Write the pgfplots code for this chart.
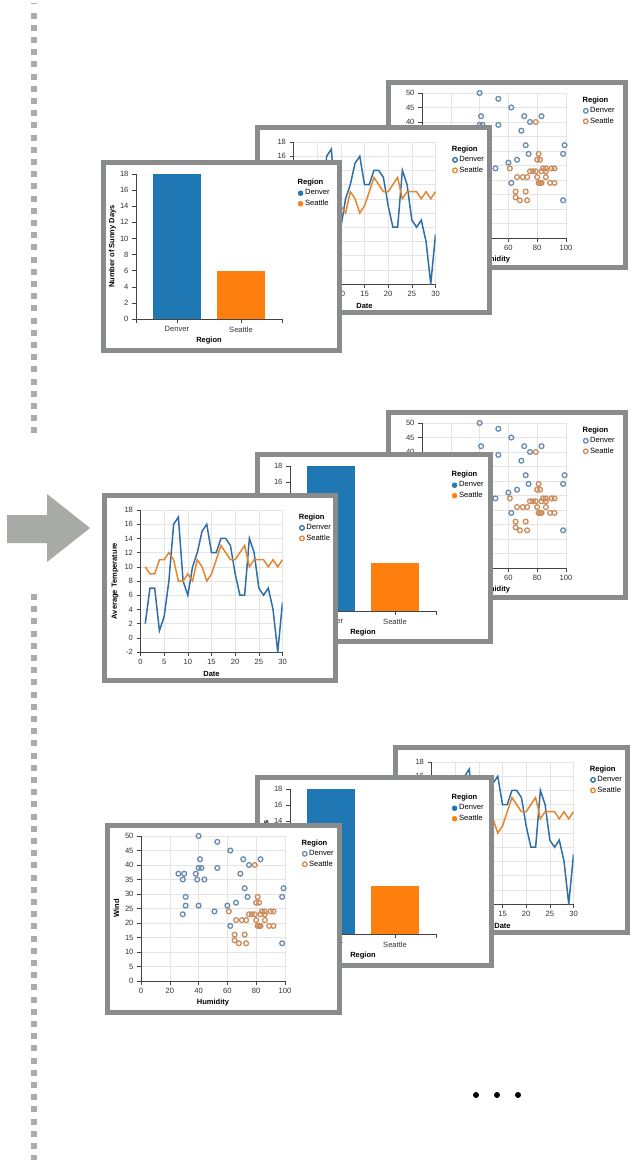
\documentclass[border=0pt]{standalone}
\usepackage{pgfplots}
\pgfplotsset{compat=1.18}
\usepackage{pgfplotstable}
\usepackage{fontspec}
\setmainfont{Liberation Sans}

\definecolor{framegray}{HTML}{898B8D}
\definecolor{dashgray}{HTML}{ABABAB}
\definecolor{arrowgray}{HTML}{A8AAA8}
\definecolor{barblue}{HTML}{1F77B4}
\definecolor{barorange}{HTML}{FF7F0E}
\definecolor{lineblue}{HTML}{2E6FA7}
\definecolor{lineorange}{HTML}{E4862F}
\definecolor{dotblue}{HTML}{6A8CB0}
\definecolor{dotorange}{HTML}{CC8C5C}
\definecolor{gridgray}{HTML}{E4E4E4}
\definecolor{axisgray}{HTML}{444444}

% daily average temperature
\pgfplotstableread{
day denver seattle
1   2  10
2   7  9
3   7  9
4   1  11
5   3  11
6   8  12
7   16 11
8   17 8
9   8  8
10  6  9
11  10 8
12  12 11
13  15 10
14  16 8
15  12 9
16  12 11
17  14 13
18  14 12
19  13 11
20  9  11
21  6  12
22  6  13
23  14 10
24  12 11
25  7  11
26  6  11
27  7  10
28  4  11
29  -2 10
30  5  11
}\temps

\pgfplotstableread{
hum wind
40 50
53 48
62 45
41 42
71 42
83 42
75 40
40 39
42 39
53 39
26 37
30 37
38 37
69 37
29 35
39 35
44 35
72 32
99 32
31 29
74 29
98 29
31 26
40 26
60 26
66 27
51 24
29 23
62 19
98 13
}\denverwind

\pgfplotstableread{
hum wind
79 40
81 29
80 27
82 27
61 24
75 23
77 23
79 23
84 24
86 24
90 24
92 24
83 23
86 23
66 21
70 21
73 21
80 21
86 21
81 19
82 19
83 19
89 19
92 19
65 16
72 16
65 14
68 13
73 13
}\seattlewind

\pgfplotsset{
  legend image code/.code={\draw[#1] plot coordinates {(2.5pt,0pt)};},
  ylab/.style={every axis y label/.style={at={(axis description cs:0,0.5)},anchor=center,
    font=\bfseries\fontsize{7.5}{8}\selectfont,xshift=#1,rotate=90}},
  vbase/.style={
    scale only axis, anchor=north west,
    axis lines*=left, xtick pos=bottom, ytick pos=left,
    tick align=outside, major tick length=4pt,
    tick style={axisgray, line width=0.5pt},
    axis line style={axisgray, line width=0.6pt},
    tick label style={font=\fontsize{7.6}{8}\selectfont, text=black!80},
    /pgf/number format/assume math mode=true,
    every axis x label/.style={at={(axis description cs:0.5,0)}, anchor=center, yshift=-22pt,
      font=\bfseries\fontsize{7.5}{8}\selectfont},
    major grid style={gridgray, line width=0.5pt},
    legend style={draw=none, fill=none, anchor=north west, inner sep=0pt, outer sep=0pt,
      font=\fontsize{7.6}{8}\selectfont, row sep=0pt,
      nodes={inner ysep=1pt, text height=6pt, text depth=2.5pt}},
    legend cell align=left,
  },
}

\newcommand{\cardframe}[4]{%
  \fill[white] (#1pt,-#2pt) rectangle ++(#3pt,-#4pt);
  \draw[framegray, line width=5pt] (#1pt+2.5pt,-#2pt-2.5pt) rectangle ++(#3pt-5pt,-#4pt+5pt);
}

\newcommand{\barchart}[4]{%
  \cardframe{#1}{#2}{#3}{#4}
  \begin{axis}[vbase, ylab=-23.5pt, at={(#1pt+35pt,-#2pt-14pt)}, width=146pt, height=145pt,
    xmin=-0.64, xmax=1.64, ymin=0, ymax=18,
    xtick={0,1}, xticklabels={Denver,Seattle},
    extra x ticks={-0.64,1.64}, extra x tick labels={},
    ytick={0,2,...,18},
    xlabel={Region}, ylabel={Number of Sunny Days},
    legend style={at={(axis description cs:1.11,0.976)}}]
  \addplot[ybar, bar width=0.75, bar shift=0pt, fill=barblue, draw=none, forget plot] coordinates {(0,18)};
  \addplot[ybar, bar width=0.75, bar shift=0pt, fill=barorange, draw=none, forget plot] coordinates {(1,6)};
  \addlegendimage{empty legend}\addlegendentry{\hspace*{-7.5pt}\textbf{Region}}
  \addlegendimage{only marks, mark=*, mark size=2.5pt, barblue}\addlegendentry{Denver}
  \addlegendimage{only marks, mark=*, mark size=2.5pt, barorange}\addlegendentry{Seattle}
  \end{axis}
}

\newcommand{\linechart}[4]{%
  \cardframe{#1}{#2}{#3}{#4}
  \begin{axis}[vbase, ylab=-25.5pt, at={(#1pt+38.5pt,-#2pt-17pt)}, width=142pt, height=142pt,
    xmin=0, xmax=30, ymin=-2, ymax=18,
    xtick={0,5,...,30}, ytick={-2,0,...,18}, grid=major,
    xlabel={Date}, ylabel={Average Temperature},
    legend style={at={(axis description cs:1.12,0.985)}}]
  \addplot[lineblue, line width=1.5pt, forget plot] table[x=day, y=denver] {\temps};
  \addplot[lineorange, line width=1.5pt, forget plot] table[x=day, y=seattle] {\temps};
  \addlegendimage{empty legend}\addlegendentry{\hspace*{-7.5pt}\textbf{Region}}
  \addlegendimage{only marks, mark=o, mark size=2.3pt, mark options={line width=1.3pt}, lineblue}\addlegendentry{Denver}
  \addlegendimage{only marks, mark=o, mark size=2.3pt, mark options={line width=1.3pt}, lineorange}\addlegendentry{Seattle}
  \end{axis}
}

\newcommand{\scatterchart}[4]{%
  \cardframe{#1}{#2}{#3}{#4}
  \begin{axis}[vbase, ylab=-24.5pt, at={(#1pt+36pt,-#2pt-13pt)}, width=144pt, height=145pt,
    xmin=0, xmax=100, ymin=0, ymax=50,
    xtick={0,20,...,100}, ytick={0,5,...,50}, grid=major,
    xlabel={Humidity}, ylabel={Wind},
    legend style={at={(axis description cs:1.12,0.986)}}]
  \addplot[only marks, mark=o, mark size=2.4pt, mark options={line width=1.3pt}, dotblue, forget plot] table[x=hum, y=wind] {\denverwind};
  \addplot[only marks, mark=o, mark size=2.4pt, mark options={line width=1.3pt}, dotorange, forget plot] table[x=hum, y=wind] {\seattlewind};
  \addlegendimage{empty legend}\addlegendentry{\hspace*{-7.5pt}\textbf{Region}}
  \addlegendimage{only marks, mark=o, mark size=2.3pt, mark options={line width=1.3pt}, dotblue}\addlegendentry{Denver}
  \addlegendimage{only marks, mark=o, mark size=2.3pt, mark options={line width=1.3pt}, dotorange}\addlegendentry{Seattle}
  \end{axis}
}

\begin{document}
\begin{tikzpicture}
\path[use as bounding box] (0,0) rectangle (635pt,-1167pt);

% dotted divider, arrow and ellipsis
\fill[dashgray] (31pt,-3pt) rectangle (37pt,-4pt);
\draw[dashgray, line width=6pt, dash pattern=on 6pt off 6.2pt] (34pt,-12.5pt) -- (34pt,-438pt);
\draw[dashgray, line width=6pt, dash pattern=on 6pt off 6.2pt] (34pt,-594pt) -- (34pt,-1160pt);
\fill[arrowgray] (7pt,-515pt) -- (47pt,-515pt) -- (47pt,-494pt) -- (90pt,-528pt)
  -- (47pt,-562pt) -- (47pt,-543pt) -- (7pt,-543pt) -- cycle;
\foreach \dx in {476,497,518} \fill[black] (\dx pt,-1095pt) circle (3pt);

% row 1
\scatterchart{386}{80}{242}{190}
\linechart{255}{125}{237}{190}
\barchart{101}{160}{241}{193}
% row 2
\scatterchart{386}{410}{242}{190}
\barchart{255}{452}{238}{192}
\linechart{102}{493}{236}{190}
% row 3
\linechart{393}{745}{237}{190}
\barchart{255}{775}{239}{193}
\scatterchart{105}{823}{237}{192}
\end{tikzpicture}
\end{document}
